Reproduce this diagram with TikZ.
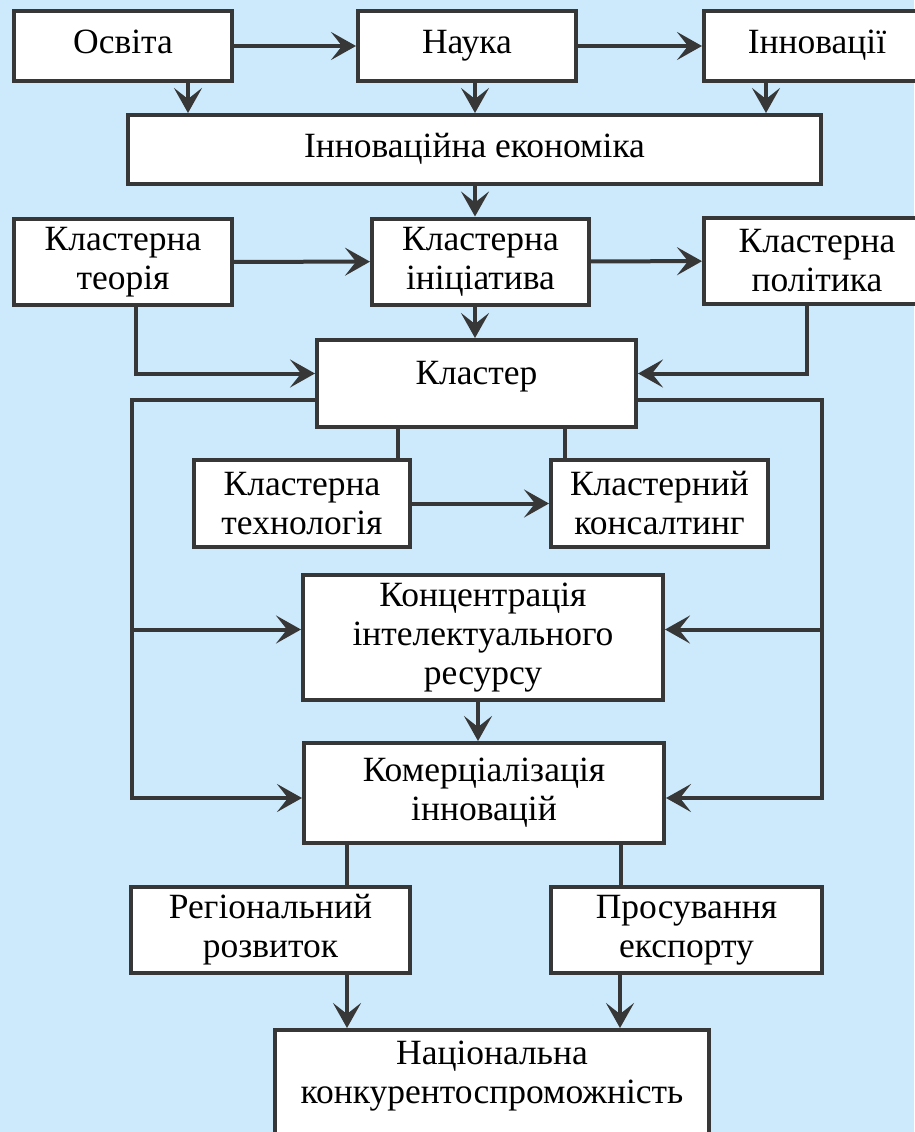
\documentclass[tikz,border=0pt]{standalone}
\usepackage{fontspec}
\setmainfont{Liberation Serif}
\usetikzlibrary{arrows.meta, positioning, calc}
\definecolor{bgblue}{RGB}{205,234,252}
\definecolor{linegray}{RGB}{55,55,55}

\begin{document}
\begin{tikzpicture}[x=1pt, y=-1pt,
    box/.style={draw=linegray, line width=4pt, fill=white, align=center, inner sep=0pt, font=\fontsize{35.5}{39}\selectfont},
    oneline/.style={text height=24pt, text depth=8pt},
    link/.style={draw=linegray, line width=4pt},
    arr/.style={link, -{Stealth[length=25pt, width=28pt, inset=11pt]}}]
    % Background
    \fill[bgblue] (0,0) rectangle (914,1132);
    \useasboundingbox (0,0) rectangle (914,1132);

    % Top row
    \node[box, oneline, minimum width=218pt, minimum height=70pt] (osvita) at (123,46) {Освіта};
    \node[box, oneline, minimum width=218pt, minimum height=70pt] (nauka) at (467,46) {Наука};
    \node[box, oneline, minimum width=226pt, minimum height=70pt] (innov) at (817,46) {Інновації};
    \node[box, oneline, minimum width=693pt, minimum height=69pt] (econ) at (474.5,149.5) {Інноваційна економіка};

    % Cluster row
    \node[box, minimum width=218pt, minimum height=86pt] (teoria) at (123,262) {Кластерна\\теорія};
    \node[box, minimum width=217pt, minimum height=86pt] (initsiat) at (480.5,261.5) {Кластерна\\ініціатива};
    \node[box, minimum width=226pt, minimum height=86pt] (polityka) at (817,261) {Кластерна\\політика};
    \node[box, minimum width=319pt, minimum height=87pt, text height=23pt, text depth=21pt] (klaster) at (476.5,383.5) {Кластер};
    \node[box, minimum width=216pt, minimum height=87pt] (tekhn) at (302,503.5) {Кластерна\\технологія};
    \node[box, minimum width=217pt, minimum height=87pt] (konsalt) at (659.5,503.5) {Кластерний\\консалтинг};

    % Lower part
    \node[box, minimum width=360pt, minimum height=125pt] (kontsentr) at (483,637.5) {Концентрація\\інтелектуального\\ресурсу};
    \node[box, minimum width=360pt, minimum height=100pt] (komerts) at (484,793) {Комерціалізація\\інновацій};
    \node[box, minimum width=279pt, minimum height=86pt] (region) at (270.5,930) {Регіональний\\розвиток};
    \node[box, minimum width=271pt, minimum height=86pt] (eksport) at (686.5,930) {Просування\\експорту};
    \node[box, minimum width=434pt, minimum height=120pt, text depth=36pt] (natsion) at (492,1090) {Національна\\конкурентоспроможність};

    % Helper coordinates
    \coordinate (col) at (475,0);
    \coordinate (lbus) at (132,0);
    \coordinate (rbus) at (822,0);
    \coordinate (osv) at ([xshift=65pt]osvita.south);
    \coordinate (inn) at ([xshift=-51pt]innov.south);
    \coordinate (konL) at ([yshift=8pt]kontsentr.west);
    \coordinate (konR) at ([yshift=8pt]kontsentr.east);
    \coordinate (komL) at ([yshift=-5pt]komerts.west);
    \coordinate (komR) at ([yshift=-5pt]komerts.east);

    % Arrows at the top
    \draw[arr] (osvita) -- (nauka);
    \draw[arr] (nauka) -- (innov);
    \draw[arr] (osv) -- (osv |- econ.north);
    \draw[arr] (nauka.south -| col) -- (econ.north -| col);
    \draw[arr] (inn) -- (inn |- econ.north);
    \draw[arr] (econ.south -| col) -- (initsiat.north -| col);
    \draw[arr] (teoria) -- (initsiat);
    \draw[arr] (initsiat) -- (polityka);
    \draw[arr] (initsiat.south -| col) -- (klaster.north -| col);
    \draw[arr] ([xshift=13pt]teoria.south) |- ([yshift=10pt]klaster.west);
    \draw[arr] ([xshift=-10pt]polityka.south) |- ([yshift=10pt]klaster.east);

    % Cluster links
    \draw[link] ([xshift=96pt]tekhn.north) -- ([xshift=96pt]tekhn.north |- klaster.south);
    \draw[link] ([xshift=-95pt]konsalt.north) -- ([xshift=-95pt]konsalt.north |- klaster.south);
    \draw[arr] (tekhn) -- (konsalt);

    % Side buses
    \draw[arr] ([yshift=-16pt]klaster.west) -| (lbus |- komL) -- (komL);
    \draw[arr] (lbus |- konL) -- (konL);
    \draw[arr] ([yshift=-16pt]klaster.east) -| (rbus |- komR) -- (komR);
    \draw[arr] (rbus |- konR) -- (konR);
    \draw[arr] ([xshift=-5pt]kontsentr.south) -- ([xshift=-5pt]kontsentr.south |- komerts.north);

    % Bottom
    \draw[link] ([xshift=76.5pt]region.north) -- ([xshift=76.5pt]region.north |- komerts.south);
    \draw[link] ([xshift=-65.5pt]eksport.north) -- ([xshift=-65.5pt]eksport.north |- komerts.south);
    \draw[arr] ([xshift=76.5pt]region.south) -- ([xshift=76.5pt]region.south |- natsion.north);
    \draw[arr] ([xshift=-66.5pt]eksport.south) -- ([xshift=-66.5pt]eksport.south |- natsion.north);
\end{tikzpicture}
\end{document}
